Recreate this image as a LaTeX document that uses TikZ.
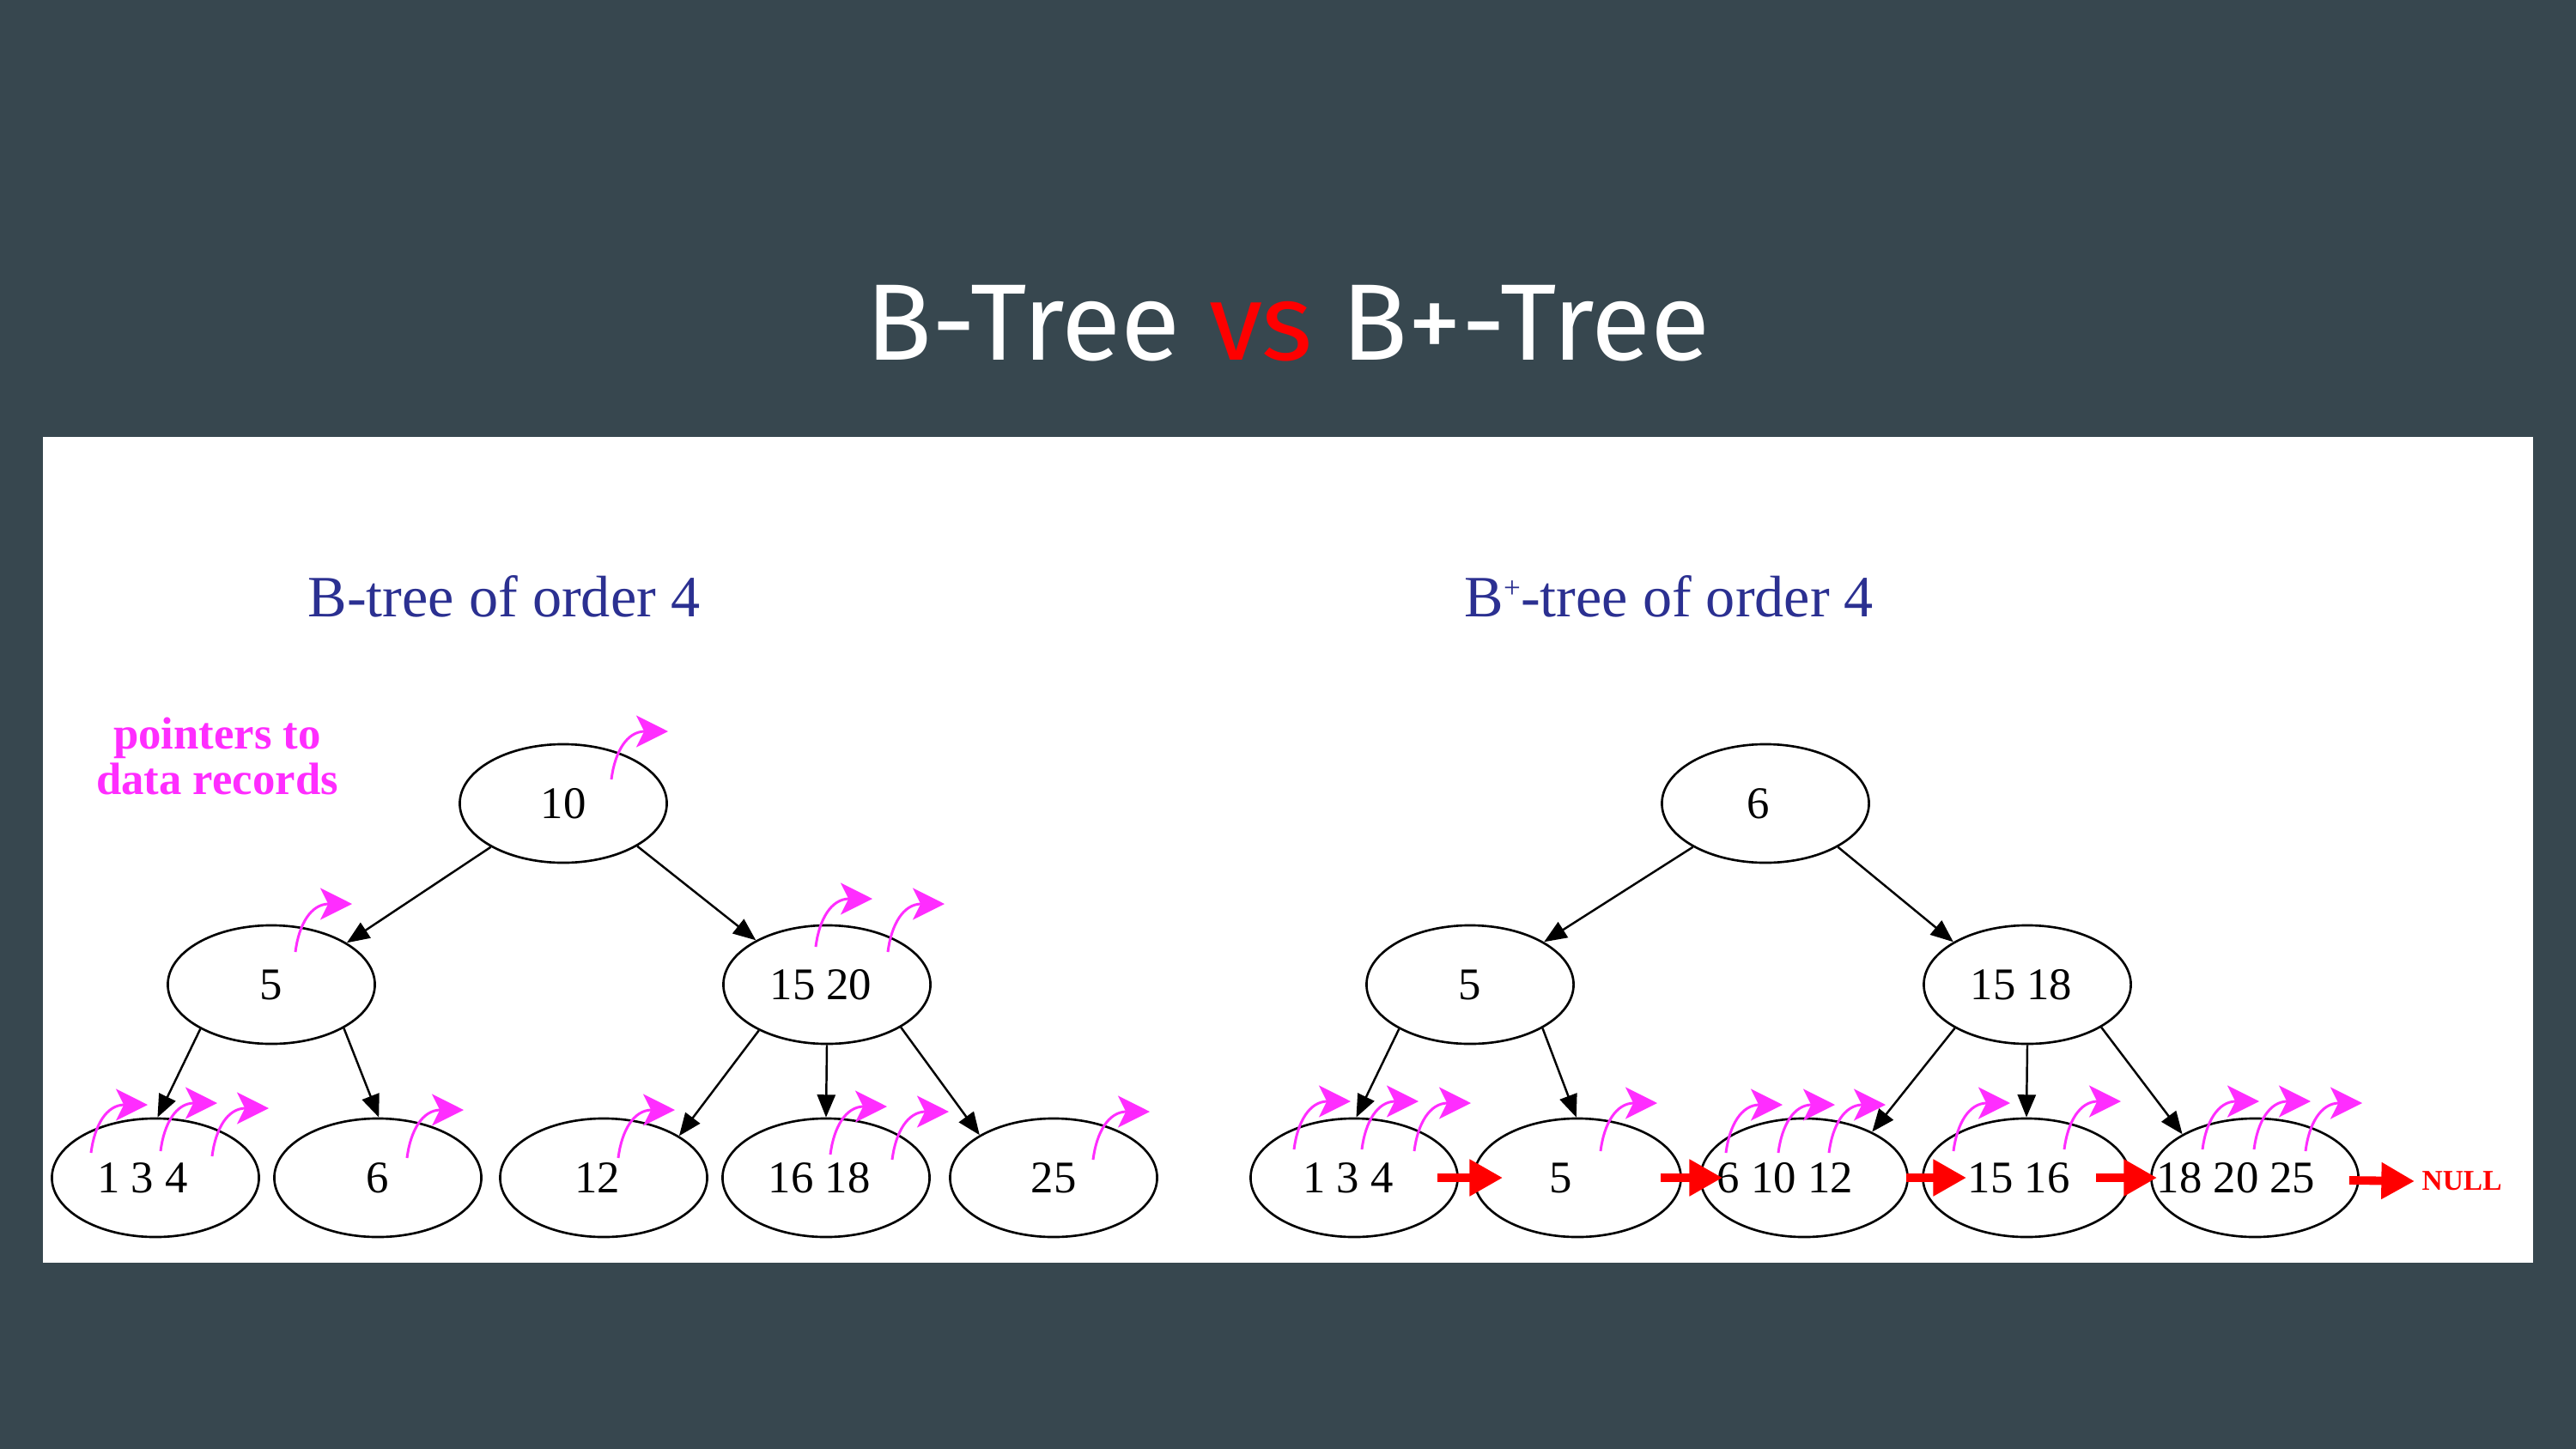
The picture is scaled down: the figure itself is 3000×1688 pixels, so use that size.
\documentclass[tikz,border=0pt]{standalone}
\usepackage{fontspec}
\setmainfont{Liberation Serif}
\newfontfamily\titlefont{Fira Sans}
\usetikzlibrary{shapes.geometric,arrows.meta,calc}

\definecolor{slate}{HTML}{37474F}
\definecolor{ptrpink}{RGB}{255,45,255}
\definecolor{headblue}{RGB}{43,48,145}
\definecolor{linkred}{RGB}{255,0,0}

% key text pushed left of the node centre by half of #1
\newcommand\keyleft[2]{\makebox[0pt]{#2\kern#1}}

\begin{document}
\begin{tikzpicture}[x=0.01cm,y=-0.01cm,
  key/.style={draw, line width=0.75pt, ellipse, minimum width=2.41cm,
    minimum height=1.38cm, inner sep=0pt, font=\fontsize{15}{18}\selectfont},
  edge/.style={line width=0.7pt, -{Triangle[length=7.5pt,width=6pt]}},
  link/.style={draw=linkred, line width=2.8pt, -{Triangle[length=11pt,width=11.5pt]}},
  ptrline/.style={draw=ptrpink, line width=0.85pt,
    -{Stealth[length=10.5pt,width=10.5pt,inset=2.6pt]}},
  ptr/.pic={\draw[ptrline] (0,0) .. controls (4,-32) and (18,-56) .. (66,-56);},
]
% slide background and white panel
\fill[slate] (0,0) rectangle (3000,1688);
\fill[white] (50,509) rectangle (2950,1471);
\useasboundingbox (0,0) rectangle (3000,1688);

% slide title
\node[anchor=base, inner sep=0pt, text=white,
  font=\titlefont\fontsize{36}{40}\selectfont] (title) at (1500,419)
  {B-Tree \textcolor{linkred}{vs} B+-Tree};

% panel headings
\node[anchor=base west, inner sep=0pt, text=headblue,
  font=\fontsize{19.4}{23}\selectfont] (hb) at (358,718) {B-tree of order 4};
\node[anchor=base west, inner sep=0pt, text=headblue,
  font=\fontsize{19.4}{23}\selectfont] (hbp) at (1705,718)
  {B\raisebox{6pt}{\fontsize{10}{10}\selectfont +}-tree of order 4};

% legend for the pink arrows
\node[anchor=base, inner sep=0pt, text=ptrpink,
  font=\bfseries\fontsize{15}{15}\selectfont] (note1) at (253,872) {pointers to};
\node[anchor=base, inner sep=0pt, text=ptrpink,
  font=\bfseries\fontsize{15}{15}\selectfont] (note2) at (253,925) {data records};

% ---------------- B-tree ----------------
\node[key] (a10) at (656,936) {10};
\node[key] (a5) at (316,1147) {5};
\node[key] (a1520) at (963,1147) {\keyleft{4pt}{15 20}};
\node[key] (a134) at (181,1372) {\keyleft{8.5pt}{1 3 4}};
\node[key] (a6) at (440,1372) {6};
\node[key] (a12) at (703,1372) {\keyleft{4pt}{12}};
\node[key] (a1618) at (962,1372) {\keyleft{4.5pt}{16 18}};
\node[key] (a25) at (1227,1372) {25};

\draw[edge] (a10.211) -- (a5.29);
\draw[edge] (a10.330) -- (a1520.148);
\draw[edge] (a5.212) -- (a134.88);
\draw[edge] (a5.329) -- (a6.89);
\draw[edge] (a1520.214) -- (a12.29);
\draw[edge] (a1520.270) -- (a1618.90);
\draw[edge] (a1520.330) -- (a25.150);

\pic at ($(a10)+(56,-28)$) {ptr};
\pic at ($(a5)+(28,-38)$) {ptr};
\pic at ($(a1520)+(-13,-44)$) {ptr};
\pic at ($(a1520)+(71,-38)$) {ptr};
\pic at ($(a134)+(-75,-29)$) {ptr};
\pic at ($(a134)+(6,-31)$) {ptr};
\pic at ($(a134)+(66,-25)$) {ptr};
\pic at ($(a6)+(34,-23)$) {ptr};
\pic at ($(a12)+(17,-23)$) {ptr};
\pic at ($(a1618)+(5,-27)$) {ptr};
\pic at ($(a1618)+(77,-21)$) {ptr};
\pic at ($(a25)+(46,-21)$) {ptr};

% ---------------- B+-tree ----------------
\node[key] (b6) at (2056,936) {\keyleft{5pt}{6}};
\node[key] (b5) at (1712,1147) {5};
\node[key] (b1518) at (2361,1147) {\keyleft{4pt}{15 18}};
\node[key] (b134) at (1577,1372) {\keyleft{4pt}{1 3 4}};
\node[key] (b5l) at (1837,1372) {\keyleft{11pt}{5}};
\node[key] (b61012) at (2101,1372) {\keyleft{12.5pt}{6 10 12}};
\node[key] (b1516) at (2360,1372) {\keyleft{5pt}{15 16}};
\node[key] (b182025) at (2626,1372) {\keyleft{12.5pt}{18 20 25}};
\node[anchor=west, inner sep=0pt, text=linkred,
  font=\bfseries\fontsize{9.5}{11}\selectfont] (null) at (2820,1376) {NULL};

\draw[edge] (b6.211) -- (b5.30);
\draw[edge] (b6.329) -- (b1518.150);
\draw[edge] (b5.212) -- (b134.88);
\draw[edge] (b5.329) -- (b5l.91);
\draw[edge] (b1518.211) -- (b61012.34);
\draw[edge] (b1518.270) -- (b1516.90);
\draw[edge] (b1518.330) -- (b182025.149);

\pic at ($(b134)+(-70,-33)$) {ptr};
\pic at ($(b134)+(9,-33)$) {ptr};
\pic at ($(b134)+(70,-31)$) {ptr};
\pic at ($(b5l)+(27,-31)$) {ptr};
\pic at ($(b61012)+(-91,-29)$) {ptr};
\pic at ($(b61012)+(-30,-29)$) {ptr};
\pic at ($(b61012)+(29,-29)$) {ptr};
\pic at ($(b1516)+(-85,-31)$) {ptr};
\pic at ($(b1516)+(44,-33)$) {ptr};
\pic at ($(b182025)+(-61,-33)$) {ptr};
\pic at ($(b182025)+(-1,-33)$) {ptr};
\pic at ($(b182025)+(59,-31)$) {ptr};

% leaf chain
\draw[link] ($(b134.east)+(-25,0)$) -- ($(b5l.west)+(35,0)$);
\draw[link] ($(b5l.east)+(-25,0)$) -- ($(b61012.west)+(27,0)$);
\draw[link] ($(b61012.east)+(-3,0)$) -- ($(b1516.west)+(52,0)$);
\draw[link] ($(b1516.east)+(-41,0)$) -- ($(b182025.west)+(8,0)$);
\draw[link] ($(b182025.east)+(-12,3)$) -- ($(null.west)+(-8,0)$);
\end{tikzpicture}
\end{document}
